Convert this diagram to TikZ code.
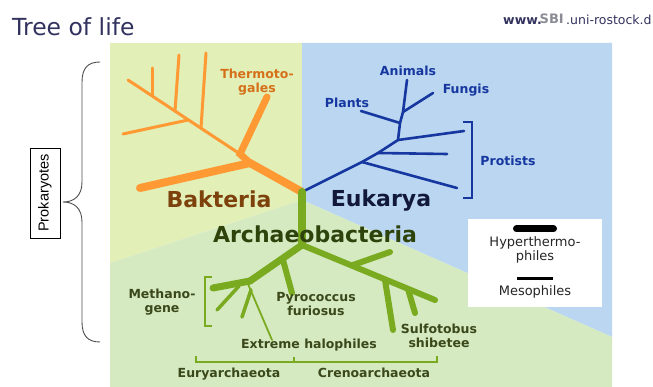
\documentclass[tikz,border=0pt]{standalone}
\usepackage{fontspec}
\setmainfont{DejaVu Sans}
\newfontfamily\arialfont{Liberation Sans}
\usepackage{tikz}
\usetikzlibrary{positioning}

\definecolor{bakbg}{RGB}{226,239,183}
\definecolor{eukbg}{RGB}{186,214,240}
\definecolor{arcbg}{RGB}{213,234,193}
\definecolor{bakorange}{RGB}{255,153,51}
\definecolor{baktext}{RGB}{214,112,24}
\definecolor{bakdark}{RGB}{125,65,12}
\definecolor{eukblue}{RGB}{22,55,160}
\definecolor{eukdark}{RGB}{18,24,58}
\definecolor{arcgreen}{RGB}{122,170,32}
\definecolor{arcdark}{RGB}{46,66,12}
\definecolor{arctext}{RGB}{58,72,26}
\definecolor{titlecol}{RGB}{50,50,95}
\definecolor{logogray}{RGB}{140,140,150}

\begin{document}
\begin{tikzpicture}[x=1pt, y=-1pt,
  bak/.style={draw=bakorange, line cap=round},
  euk/.style={draw=eukblue, line width=2.6pt, line cap=round},
  arc/.style={draw=arcgreen, line cap=round},
  big/.style={font=\fontsize{22}{24}\selectfont\bfseries, inner sep=0pt, anchor=base},
  lab/.style={font=\fontsize{12.5}{13.5}\selectfont\bfseries, align=center, inner sep=0pt},
  leg/.style={font=\fontsize{13}{13.5}\selectfont, text=black!85, align=center, inner sep=0pt},
  bracket/.style={line width=2.4pt},
]
\useasboundingbox (0,0) rectangle (653,387);

%% ---- Header ----
\node[font=\fontsize{23.5}{25}\selectfont, text=titlecol, anchor=base west, inner sep=0pt]
  (title) at (12,36) {Tree of life};
\node[font=\fontsize{12.5}{14}\selectfont\bfseries, text=titlecol, anchor=base west, inner sep=0pt]
  (www) at (503,25) {www.};
\node[font=\fontsize{13}{14}\selectfont\bfseries, text=logogray, anchor=base west, inner sep=0pt]
  (sbi) at (539.5,24) {SBI};
\node[font=\fontsize{12.5}{14}\selectfont, text=titlecol, anchor=base west, inner sep=0pt]
  (uni) at (566,25) {.uni-rostock.d};

%% ---- Background sectors ----
\fill[bakbg] (110,43) -- (302,43) -- (302,200) -- (110,263) -- cycle;
\fill[eukbg] (302,43) -- (612,43) -- (612,337) -- (302,200) -- cycle;
\fill[arcbg] (110,263) -- (302,200) -- (612,337) -- (612,387) -- (110,387) -- cycle;

%% ---- Prokaryotes brace ----
\node[draw, rotate=90, font=\arialfont\fontsize{14.5}{15}\selectfont, minimum width=90pt,
      minimum height=30pt, inner sep=0pt] (prok) at (45,193) {Prokaryotes};
\coordinate (brtop) at (100,62);
\coordinate (brtip) at (63,202);
\coordinate (brbot) at (100,342);
\draw[black!70, line width=0.9pt] (brtop) .. controls (88,62) and (82,68) .. (82,82)
  -- (82,182) .. controls (82,196) and (74,202) .. (brtip)
  .. controls (74,202) and (82,208) .. (82,222)
  -- (82,322) .. controls (82,336) and (88,342) .. (brbot);

%% ---- Bakteria (orange) ----
\coordinate (root) at (302,192);
\coordinate (bk1) at (250,163);
\coordinate (bk2) at (240,154);
\coordinate (bkL) at (140,188);
\coordinate (bkT) at (267,97);
\coordinate (bkE) at (128,80);
\coordinate (bv1) at (201,128);  \coordinate (bv1t) at (206,53);
\coordinate (bv2) at (175,111);  \coordinate (bv2t) at (179,55);
\coordinate (bv3) at (152,96);   \coordinate (bv3t) at (152,68);
\coordinate (bl2) at (188,120);  \coordinate (bl2t) at (123,134);
\draw[bak, line width=8pt] (root) -- (bk1);
\draw[bak, line width=8pt] (bk1) -- (bkL);
\draw[bak, line width=7pt] (bk1) -- (bk2) -- (bkT);
\draw[bak, line width=3pt] (bk2) -- (bkE);
\draw[bak, line width=3pt] (bv1) -- (bv1t);
\draw[bak, line width=3pt] (bv2) -- (bv2t);
\draw[bak, line width=3pt] (bv3) -- (bv3t);
\draw[bak, line width=3pt] (bl2) -- (bl2t);

%% ---- Eukarya (blue) ----
\coordinate (e1) at (362,162);
\coordinate (e2) at (378,153);
\coordinate (e3) at (398,140);
\coordinate (e4) at (400,123);
\coordinate (e5) at (403,112);
\coordinate (eA) at (407,80);
\coordinate (eP1) at (457,188);
\coordinate (eP2) at (447,154);
\coordinate (eP3) at (464,131);
\coordinate (ePl) at (361,111);
\coordinate (eF) at (433,93);
\draw[euk] (root) -- (e1) -- (e2) -- (e3) -- (e4) -- (e5) -- (eA);
\draw[euk] (e1) -- (eP1);
\draw[euk] (e2) -- (eP2);
\draw[euk] (e3) -- (eP3);
\draw[euk] (e4) -- (ePl);
\draw[euk] (e5) -- (eF);
\draw[eukblue, bracket] (463,122) -- (472,122) -- (472,198) -- (463,198);

%% ---- Archaeobacteria (green) ----
\coordinate (a1) at (302,245);
\coordinate (aL) at (250,281);
\coordinate (aM) at (213,288);
\coordinate (aPy) at (283,260);  \coordinate (aPyt) at (292,293);
\coordinate (am1) at (239,286);  \coordinate (am1t) at (217,310);
\coordinate (am2) at (251,290);  \coordinate (am2t) at (242,317);
\coordinate (ah) at (248,284);   \coordinate (aht) at (272,340);
\coordinate (aR) at (435,300);
\coordinate (ar1) at (353,265);  \coordinate (ar1t) at (390,252);
\coordinate (ar2) at (385,280);  \coordinate (ar2t) at (393,330);
\coordinate (ar3) at (408,289);  \coordinate (ar3t) at (415,313);
\draw[arc, line width=8pt] (root) -- (a1);
\draw[arc, line width=7pt] (a1) -- (aL);
\draw[arc, line width=7pt] (aL) -- (aM);
\draw[arc, line width=6pt] (aPy) -- (aPyt);
\draw[arc, line width=3.5pt] (am1) -- (am1t);
\draw[arc, line width=3.5pt] (am2) -- (am2t);
\draw[arc, line width=1.8pt] (ah) -- (aht);
\draw[arc, line width=6pt] (a1) -- (aR);
\draw[arc, line width=6pt] (ar1) -- (ar1t);
\draw[arc, line width=6pt] (ar2) -- (ar2t);
\draw[arc, line width=6pt] (ar3) -- (ar3t);
\draw[arcgreen, bracket] (212,277) -- (205,277) -- (205,326) -- (212,326);
\draw[arcgreen, bracket] (196,356) -- (196,362) -- (437,362) -- (437,356);
\draw[arcgreen, bracket] (294,362) -- (294,357);

%% ---- Legend ----
\node[fill=white, minimum width=134pt, minimum height=88pt, inner sep=0pt] (legend) at (535,263) {};
\coordinate (hypa) at (516.5,229);  \coordinate (hypb) at (553.5,229);
\coordinate (mesa) at (517,279);    \coordinate (mesb) at (553,279);
\draw[black, line width=7pt, line cap=round] (hypa) -- (hypb);
\draw[black, line width=3pt] (mesa) -- (mesb);
\node[leg] (hyp) at (535,250) {Hyperthermo-\\philes};
\node[leg, anchor=base] (meso) at (535,295) {Mesophiles};

%% ---- Labels ----
\node[big, text=bakdark] (bakt) at (219,208) {Bakteria};
\node[big, text=eukdark] (euka) at (381,207) {Eukarya};
\node[big, text=arcdark] (arch) at (315,243) {Archaeobacteria};
\node[lab, text=baktext] (thermo) at (257,82) {Thermoto-\\gales};
\node[lab, text=eukblue, anchor=base] (anim) at (408,76) {Animals};
\node[lab, text=eukblue, anchor=base] (fung) at (466,94) {Fungis};
\node[lab, text=eukblue, anchor=base] (plan) at (347,108) {Plants};
\node[lab, text=eukblue, anchor=base] (prot) at (508,166) {Protists};
\node[lab, text=arctext] (meth) at (162,302) {Methano-\\gene};
\node[lab, text=arctext] (pyro) at (316,304) {Pyrococcus\\furiosus};
\node[lab, text=arctext, anchor=base] (halo) at (309,348) {Extreme halophiles};
\node[lab, text=arctext] (sulf) at (439,336) {Sulfotobus\\shibetee};
\node[lab, text=arctext, anchor=base] (eury) at (229,377) {Euryarchaeota};
\node[lab, text=arctext, anchor=base] (cren) at (374,377) {Crenoarchaeota};

\end{tikzpicture}
\end{document}
